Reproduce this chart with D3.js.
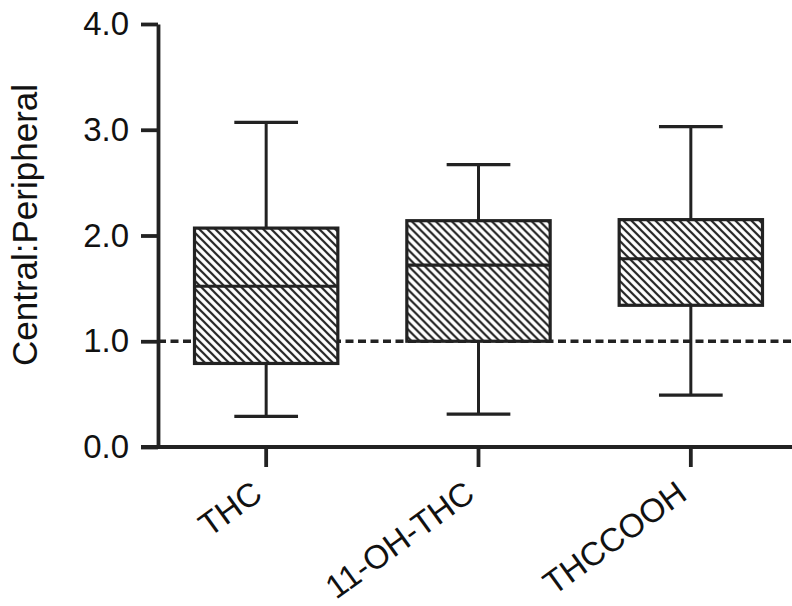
<!DOCTYPE html>
<html><head><meta charset="utf-8">
<script src="https://cdn.jsdelivr.net/npm/d3@7"></script>
<style>html,body{margin:0;padding:0;background:#fff;}</style>
</head><body>
<svg id="chart" width="792" height="606"></svg>
<script>
const categories = ["THC", "11-OH-THC", "THCCOOH"];
const whiskerLow = [0.29, 0.31, 0.49];
const q1 = [0.79, 1.00, 1.34];
const medians = [1.52, 1.72, 1.78];
const q3 = [2.07, 2.14, 2.15];
const whiskerHigh = [3.07, 2.67, 3.03];
const yTicks = [0, 1, 2, 3, 4];
const referenceValue = 1.0;
const yLabel = "Central:Peripheral";

const data = categories.map((c, i) => ({cat: c, lo: whiskerLow[i], q1: q1[i], med: medians[i], q3: q3[i], hi: whiskerHigh[i]}));

const svg = d3.select("#chart");
const ink = "#222";
const font = "Liberation Sans, Arial, sans-serif";
const x = d3.scaleBand().domain(categories).range([160, 797]).paddingInner(0).paddingOuter(0);
const y = d3.scaleLinear().domain([0, 4]).range([447, 24]);
const boxW = x.bandwidth() * 0.675;
const capW = x.bandwidth() * 0.3;

const defs = svg.append("defs");
const pat = defs.append("pattern").attr("id", "hatch").attr("patternUnits", "userSpaceOnUse")
  .attr("width", 8).attr("height", 8);
pat.append("rect").attr("width", 8).attr("height", 8).attr("fill", "#fff");
pat.append("path").attr("d", "M-2,-2 L10,10 M-2,6 L2,10 M6,-2 L10,2")
  .attr("stroke", ink).attr("stroke-width", 2.2);

// reference dashed line
svg.append("line").attr("x1", 158).attr("x2", 792)
  .attr("y1", y(referenceValue)).attr("y2", y(referenceValue))
  .attr("stroke", ink).attr("stroke-width", 3.5).attr("stroke-dasharray", "8,4.5");

const g = svg.append("g").selectAll("g").data(data).join("g")
  .attr("transform", d => `translate(${x(d.cat) + x.bandwidth() / 2},0)`);

g.append("line").attr("x1", 0).attr("x2", 0).attr("y1", d => y(d.hi)).attr("y2", d => y(d.q3))
  .attr("stroke", ink).attr("stroke-width", 3);
g.append("line").attr("x1", 0).attr("x2", 0).attr("y1", d => y(d.q1)).attr("y2", d => y(d.lo))
  .attr("stroke", ink).attr("stroke-width", 3);
g.append("line").attr("x1", -capW / 2).attr("x2", capW / 2).attr("y1", d => y(d.hi)).attr("y2", d => y(d.hi))
  .attr("stroke", ink).attr("stroke-width", 3.2);
g.append("line").attr("x1", -capW / 2).attr("x2", capW / 2).attr("y1", d => y(d.lo)).attr("y2", d => y(d.lo))
  .attr("stroke", ink).attr("stroke-width", 3.2);
g.append("rect").attr("x", -boxW / 2).attr("width", boxW)
  .attr("y", d => y(d.q3)).attr("height", d => y(d.q1) - y(d.q3))
  .attr("fill", "url(#hatch)").attr("stroke", ink).attr("stroke-width", 3.2);
g.append("line").attr("x1", -boxW / 2).attr("x2", boxW / 2).attr("y1", d => y(d.med)).attr("y2", d => y(d.med))
  .attr("stroke", ink).attr("stroke-width", 3.2);

// Y axis
const yAxis = svg.append("g").attr("transform", "translate(158,0)")
  .call(d3.axisLeft(y).tickValues(yTicks).tickFormat(d3.format(".1f")).tickSize(17).tickPadding(12).tickSizeOuter(0));
yAxis.select(".domain").attr("stroke", ink).attr("stroke-width", 3.8);
yAxis.selectAll(".tick line").attr("stroke", ink).attr("stroke-width", 3.8);
yAxis.selectAll(".tick text").attr("font-family", font)
  .attr("font-size", 33).attr("fill", "#111");

// X axis
const xAxis = svg.append("g").attr("transform", "translate(0,447)")
  .call(d3.axisBottom(x).tickSize(20).tickSizeOuter(0));
xAxis.select(".domain").attr("d", "M141,0H792").attr("stroke", ink).attr("stroke-width", 3.8);
xAxis.selectAll(".tick line").attr("stroke", ink).attr("stroke-width", 3.8);
xAxis.selectAll(".tick text").attr("font-family", font)
  .attr("font-size", 33).attr("fill", "#111")
  .attr("text-anchor", "end").attr("x", 0).attr("y", 0).attr("dy", null)
  .attr("transform", "translate(-2,51) rotate(-36)");

// Y label
svg.append("text").attr("transform", "translate(37,225) rotate(-90)")
  .attr("text-anchor", "middle").attr("font-family", font)
  .attr("font-size", 35).attr("fill", "#111").text(yLabel);
</script>
</body></html>
